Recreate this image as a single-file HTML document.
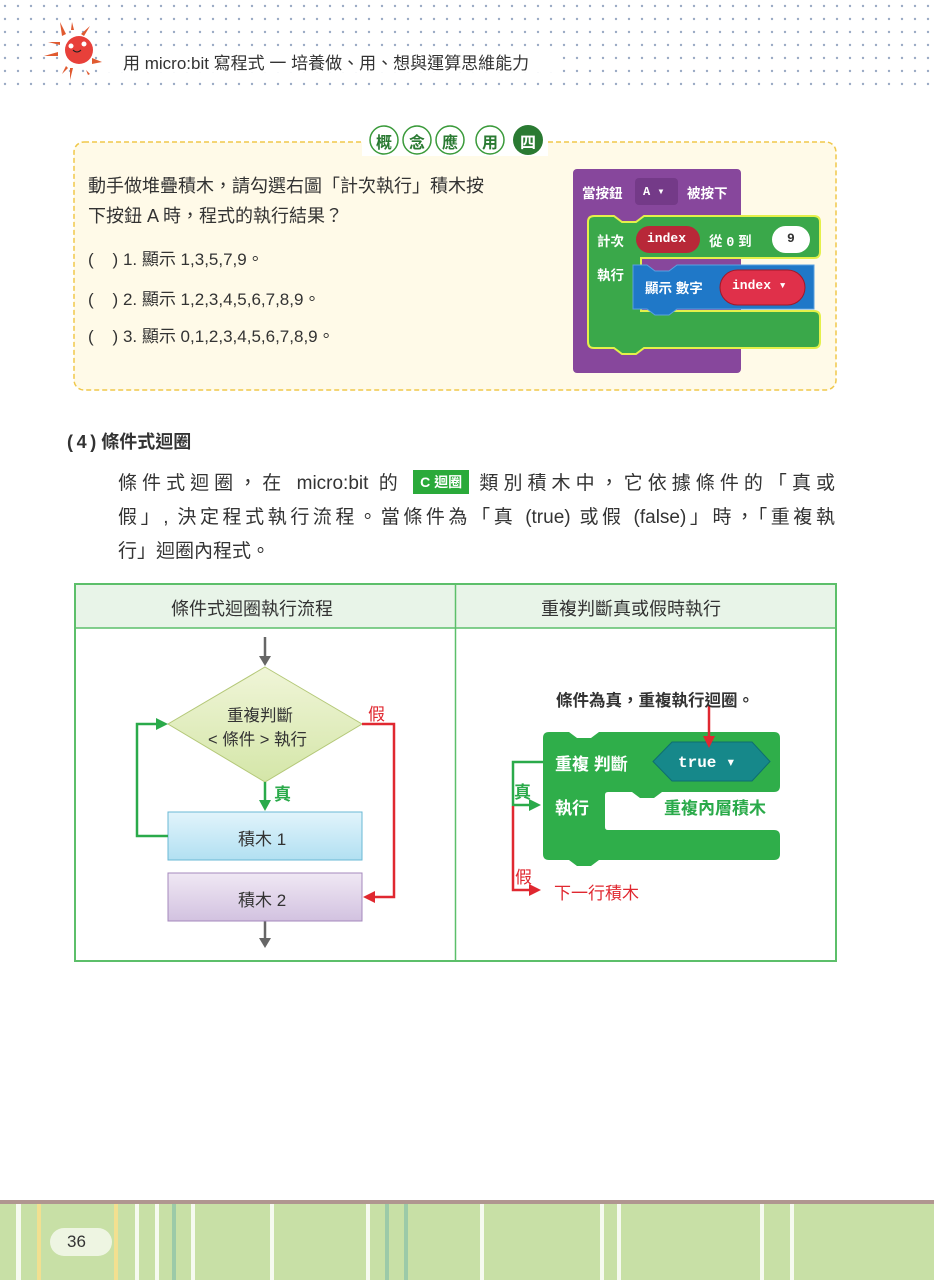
<!DOCTYPE html>
<html><head><meta charset="utf-8"><style>
body{margin:0;width:934px;height:1280px;position:relative;background:#fff;overflow:hidden;font-family:"Liberation Sans","Noto Sans CJK TC",sans-serif;color:#333}
.a{position:absolute;white-space:nowrap}
.j{position:absolute;text-align:justify;text-align-last:justify;white-space:nowrap;font-size:19px}
.b{position:absolute;width:28px;text-align:center;font-size:16px;font-weight:bold;color:#2a7a32;top:129px}
</style></head><body>
<svg width="934" height="1280" style="position:absolute;left:0;top:0">
<defs>
<pattern id="dots" x="3" y="4" width="13" height="13" patternUnits="userSpaceOnUse"><circle cx="2" cy="2" r="1.2" fill="#9aaac4"/></pattern>
</defs>
<rect x="0" y="0" width="934" height="86" fill="url(#dots)"/>
<rect x="106" y="48" width="452" height="24" fill="#fff"/>
<g fill="#e05a30"><path d="M60 22 l6 12 l-4 2z"/><path d="M72 22 l2 8 l-3 0z"/><path d="M90 26 l-6 10 l-3 -2z"/><path d="M48 42 l12 0 l0 3z"/><path d="M44 56 l14 -4 l0 4z"/><path d="M92 58 l10 4 l-10 2z"/><path d="M62 74 l4 -8 l2 2z"/><path d="M70 80 l0 -12 l3 0z"/><path d="M86 70 l4 4 l-2 1z"/></g>
<circle cx="79" cy="50" r="14" fill="#e8403a"/>
<circle cx="71" cy="46" r="2.5" fill="#fff"/><circle cx="84" cy="44" r="2.5" fill="#fff"/>
<path d="M73 50 q4 4 8 0" stroke="#222" fill="none"/>
<rect x="74" y="142" width="762" height="248" rx="10" fill="#fffae8" stroke="#f0c84a" stroke-width="1.5" stroke-dasharray="5,3"/>
<rect x="362" y="120" width="186" height="36" fill="#fff"/>
<g stroke="#3a9a3a" stroke-width="1.5" fill="#fff">
<circle cx="384" cy="140" r="14"/><circle cx="417" cy="140" r="14"/><circle cx="450" cy="140" r="14"/><circle cx="490" cy="140" r="14"/></g>
<circle cx="528" cy="140" r="15" fill="#2a7a32"/>
<rect x="573" y="169" width="168" height="204" rx="4" fill="#87479c"/>
<rect x="635" y="178" width="43" height="27" rx="4" fill="#743a88"/>
<path d="M594 216 H614 L622 222 H636 L644 216 H814 Q820 216 820 222 V252 Q820 258 814 258 H641 V311 H814 Q820 311 820 317 V342 Q820 348 814 348 H644 L636 354 H622 L614 348 H594 Q588 348 588 342 V222 Q588 216 594 216Z" fill="#3aa84a" stroke="#e4f04a" stroke-width="2"/>
<rect x="636" y="226" width="64" height="27" rx="13.5" fill="#b82838"/>
<rect x="772" y="226" width="38" height="27" rx="13.5" fill="#fff"/>
<path d="M633 265 h14 l8 6 h14 l8 -6 h137 v44 h-137 l-8 6 h-14 l-8 -6 h-14z" fill="#1f78c8" stroke="#5aa0e0" stroke-width="1"/>
<rect x="720" y="270" width="85" height="35" rx="17.5" fill="#e0304a" stroke="#a01828"/>
<rect x="75" y="584" width="761" height="44" fill="#e8f4e8"/>
<rect x="75" y="584" width="761" height="377" fill="none" stroke="#5cbf6a" stroke-width="2"/>
<line x1="75" y1="628" x2="836" y2="628" stroke="#5cbf6a" stroke-width="1.5"/>
<line x1="455.5" y1="584" x2="455.5" y2="961" stroke="#5cbf6a" stroke-width="1.5"/>
<defs>
<linearGradient id="dg" x1="0" y1="0" x2="0" y2="1"><stop offset="0" stop-color="#f0f5d8"/><stop offset="1" stop-color="#d4e6a8"/></linearGradient>
<linearGradient id="bg1" x1="0" y1="0" x2="0" y2="1"><stop offset="0" stop-color="#e2f4fb"/><stop offset="1" stop-color="#b2e0f2"/></linearGradient>
<linearGradient id="bg2" x1="0" y1="0" x2="0" y2="1"><stop offset="0" stop-color="#f0e8f4"/><stop offset="1" stop-color="#d2c2e0"/></linearGradient>
</defs>
<g stroke="#666" stroke-width="2.5"><line x1="265" y1="637" x2="265" y2="658"/><line x1="265" y1="921" x2="265" y2="940"/></g>
<path d="M259 656 l6 10 l6 -10z M259 938 l6 10 l6 -10z" fill="#666"/>
<path d="M265 667 L362 724 L265 782 L168 724Z" fill="url(#dg)" stroke="#b4c878"/>
<rect x="168" y="812" width="194" height="48" fill="url(#bg1)" stroke="#6ab8d4"/>
<rect x="168" y="873" width="194" height="48" fill="url(#bg2)" stroke="#a488bc"/>
<g stroke="#2aaa4a" stroke-width="2.5" fill="none"><path d="M168 836 H137 V724 H158"/><path d="M265 782 V803"/></g>
<path d="M156 718 l12 6 l-12 6z M259 800 l6 11 l6 -11z" fill="#2aaa4a"/>
<path d="M362 724 H394 V897 H374" stroke="#e02830" stroke-width="2.5" fill="none"/>
<path d="M375 891 l-12 6 l12 6z" fill="#e02830"/>
<path d="M549 732 H569 L577 738 H591 L599 732 H774 Q780 732 780 738 V786 Q780 792 774 792 H662 L654 798 H640 L632 792 H608 Q605 792 605 795 V827 Q605 830 608 830 H774 Q780 830 780 836 V854 Q780 860 774 860 H599 L591 866 H577 L569 860 H549 Q543 860 543 854 V738 Q543 732 549 732Z" fill="#2fae4a"/>
<path d="M653 761.5 L672 742 H752 L770 761.5 L752 781 H672Z" fill="#16888a" stroke="#0e6e70"/>
<line x1="709" y1="705" x2="709" y2="738" stroke="#e02830" stroke-width="2.5"/>
<path d="M703 736 l6 12 l6 -12z" fill="#e02830"/>
<path d="M543 762 H513 V805 H530" stroke="#2aaa4a" stroke-width="2.5" fill="none"/>
<path d="M529 799 l12 6 l-12 6z" fill="#2aaa4a"/>
<path d="M513 806 V890 H530" stroke="#e02830" stroke-width="2.5" fill="none"/>
<path d="M529 884 l12 6 l-12 6z" fill="#e02830"/>
<rect x="0" y="1200" width="934" height="4" fill="#b09690"/>
<rect x="0" y="1204" width="934" height="76" fill="#c8e0a6"/>
<g fill="#f6faf0"><rect x="16" y="1204" width="5" height="76"/><rect x="135" y="1204" width="4" height="76"/><rect x="155" y="1204" width="4" height="76"/><rect x="191" y="1204" width="4" height="76"/><rect x="270" y="1204" width="4" height="76"/><rect x="366" y="1204" width="4" height="76"/><rect x="480" y="1204" width="4" height="76"/><rect x="600" y="1204" width="4" height="76"/><rect x="617" y="1204" width="4" height="76"/><rect x="760" y="1204" width="4" height="76"/><rect x="790" y="1204" width="4" height="76"/></g>
<g fill="#f2e090"><rect x="37" y="1204" width="4" height="76"/><rect x="114" y="1204" width="4" height="76"/></g>
<g fill="#9ccaa8"><rect x="172" y="1204" width="4" height="76"/><rect x="385" y="1204" width="4" height="76"/><rect x="404" y="1204" width="4" height="76"/></g>
<rect x="50" y="1228" width="62" height="28" rx="14" fill="#eef5e2"/>
</svg>

<div class="a" style="left:123px;top:49px;font-size:17px;color:#333">用 micro:bit 寫程式 一 培養做、用、想與運算思維能力</div>
<div class="b" style="left:370px">概</div>
<div class="b" style="left:403px">念</div>
<div class="b" style="left:436px">應</div>
<div class="b" style="left:476px">用</div>
<div class="b" style="left:514px;color:#fff">四</div>

<div class="a" style="left:88px;top:171px;font-size:18px;line-height:30px;color:#333">動手做堆疊積木，請勾選右圖「計次執行」積木按<br>下按鈕 A 時，程式的執行結果？</div>
<div class="a" style="left:88px;top:245px;font-size:17px">(&nbsp;&nbsp;&nbsp;&nbsp;) 1. 顯示 1,3,5,7,9。</div>
<div class="a" style="left:88px;top:285px;font-size:17px">(&nbsp;&nbsp;&nbsp;&nbsp;) 2. 顯示 1,2,3,4,5,6,7,8,9。</div>
<div class="a" style="left:88px;top:322px;font-size:17px">(&nbsp;&nbsp;&nbsp;&nbsp;) 3. 顯示 0,1,2,3,4,5,6,7,8,9。</div>

<div class="a" style="left:582px;top:182px;font-size:13.5px;font-weight:bold;color:#fff">當按鈕</div>
<div class="a" style="left:643px;top:184px;font-size:12px;font-weight:bold;color:#fff;font-family:'Liberation Mono',monospace">A ▾</div>
<div class="a" style="left:687px;top:182px;font-size:13.5px;font-weight:bold;color:#fff">被按下</div>
<div class="a" style="left:597px;top:230px;font-size:13.5px;font-weight:bold;color:#fff">計次</div>
<div class="a" style="left:647px;top:231px;font-size:13px;font-weight:bold;color:#fff;font-family:'Liberation Mono',monospace">index</div>
<div class="a" style="left:709px;top:230px;font-size:13.5px;font-weight:bold;color:#fff">從 <span style="font-family:'Liberation Mono'">0</span> 到</div>
<div class="a" style="left:787px;top:231px;font-size:13px;font-weight:bold;color:#333;font-family:'Liberation Mono',monospace">9</div>
<div class="a" style="left:597px;top:264px;font-size:13.5px;font-weight:bold;color:#fff">執行</div>
<div class="a" style="left:645px;top:277px;font-size:13.5px;font-weight:bold;color:#fff">顯示 數字</div>
<div class="a" style="left:732px;top:278px;font-size:13px;font-weight:bold;color:#fff;font-family:'Liberation Mono',monospace">index ▾</div>

<div class="a" style="left:67px;top:428px;font-size:18px;font-weight:bold;color:#333">(&thinsp;4&thinsp;) 條件式迴圈</div>
<div class="j" style="left:118px;top:468px;width:717px">條件式迴圈，在 micro:bit 的 <span style="display:inline-block;background:#2aaa3a;color:#fff;font-size:14px;padding:2px 7px;vertical-align:2px;font-weight:bold">C 迴圈</span> 類別積木中，它依據條件的「真或</div>
<div class="j" style="left:118px;top:502px;width:717px">假」, 決定程式執行流程。當條件為「真 (true) 或假 (false)」時，「重複執</div>
<div class="a" style="left:118px;top:536px;font-size:19px">行」迴圈內程式。</div>

<div class="a" style="left:171px;top:595px;font-size:18px">條件式迴圈執行流程</div>
<div class="a" style="left:541px;top:595px;font-size:18px">重複判斷真或假時執行</div>

<div class="a" style="left:227px;top:702px;font-size:16.5px">重複判斷</div>
<div class="a" style="left:208px;top:726px;font-size:16.5px">&lt; 條件 &gt; 執行</div>
<div class="a" style="left:368px;top:700px;font-size:17px;color:#e02830">假</div>
<div class="a" style="left:274px;top:780px;font-size:17px;color:#2aaa4a;font-weight:bold">真</div>
<div class="a" style="left:238px;top:825px;font-size:17px">積木 1</div>
<div class="a" style="left:238px;top:886px;font-size:17px">積木 2</div>

<div class="a" style="left:556px;top:687px;font-size:16.5px;font-weight:bold">條件為真，重複執行迴圈。</div>
<div class="a" style="left:555px;top:750px;font-size:17px;font-weight:bold;color:#fff">重複 判斷</div>
<div class="a" style="left:678px;top:752px;font-size:16px;font-weight:bold;color:#fff;font-family:'Liberation Mono',monospace">true ▾</div>
<div class="a" style="left:555px;top:794px;font-size:17px;font-weight:bold;color:#fff">執行</div>
<div class="a" style="left:664px;top:794px;font-size:17px;font-weight:bold;color:#2aaa4a">重複內層積木</div>
<div class="a" style="left:514px;top:778px;font-size:17px;font-weight:bold;color:#2aaa4a">真</div>
<div class="a" style="left:515px;top:863px;font-size:17px;color:#e02830">假</div>
<div class="a" style="left:554px;top:879px;font-size:17px;color:#e02830">下一行積木</div>

<div class="a" style="left:67px;top:1232px;font-size:17px;color:#333">36</div>
</body></html>
